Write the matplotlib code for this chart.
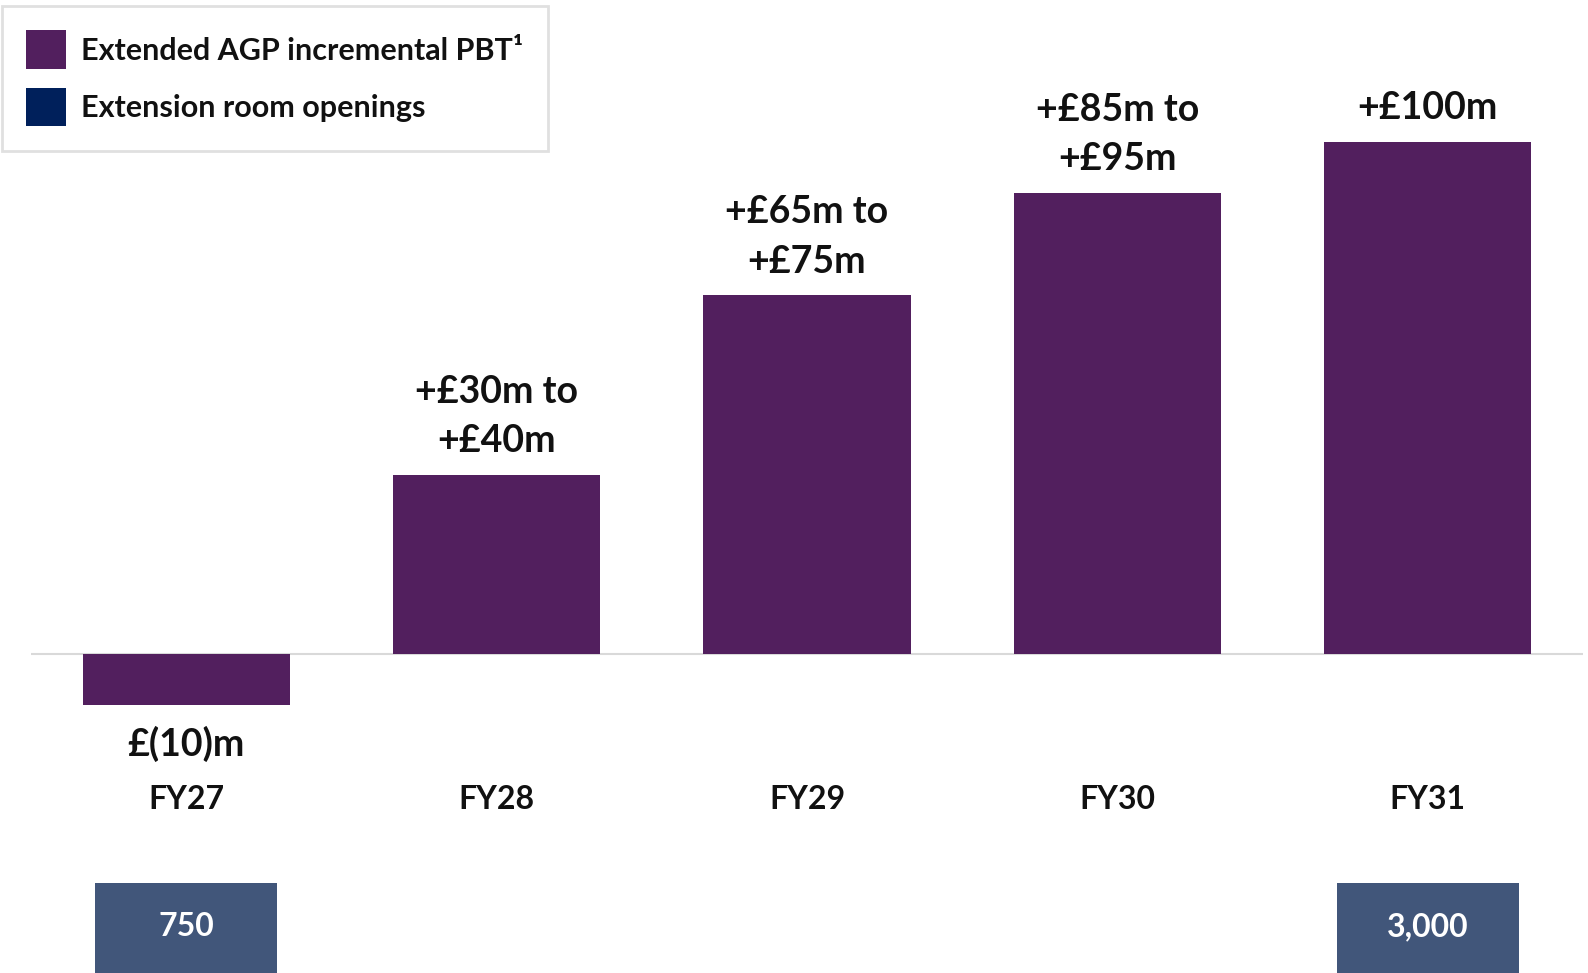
import matplotlib.pyplot as plt
from matplotlib.patches import Patch

# Chart data
years = ['FY27', 'FY28', 'FY29', 'FY30', 'FY31']
pbt_values = [-10, 35, 70, 90, 100]
pbt_labels = ['£(10)m', '+£30m to\n+£40m', '+£65m to\n+£75m', '+£85m to\n+£95m', '+£100m']
room_openings = [750, None, None, None, 3000]

purple = '#521F5E'
navy = '#00205B'
room_color = '#41567A'

plt.rcParams['font.family'] = ['Lato', 'DejaVu Sans']

fig = plt.figure(figsize=(15.88, 9.73), dpi=100)
ax = fig.add_axes([31 / 1588, 0, 1552 / 1588, 1])
ax.set_xlim(-0.5, 4.5)
ax.set_ylim(-62.3, 127.7)
ax.axis('off')

x = list(range(len(years)))

# Zero line
ax.axhline(0, color='#D9D9D9', lw=1.5, zorder=1)

# PBT bars
ax.bar(x, pbt_values, width=0.667, color=purple, zorder=2)

# Value labels
for xi, v, lab in zip(x, pbt_values, pbt_labels):
    if v >= 0:
        ax.annotate(lab, (xi, v), xytext=(0, 12), textcoords='offset points',
                    ha='center', va='bottom', fontsize=27, fontweight='bold',
                    linespacing=1.55, color='#111111')
    else:
        ax.annotate(lab, (xi, v), xytext=(0, -15), textcoords='offset points',
                    ha='center', va='top', fontsize=27, fontweight='bold',
                    color='#111111')

# Year labels
for xi, yr in zip(x, years):
    ax.text(xi, -28.5, yr, ha='center', va='center', fontsize=23,
            fontweight='bold', color='#111111')

# Extension room openings boxes
for xi, r in zip(x, room_openings):
    if r is None:
        continue
    ax.bar(xi, -30, bottom=-44.7, width=0.586, color=room_color, zorder=2)
    ax.text(xi, -53.3, f'{r:,}', ha='center', va='center', fontsize=23,
            fontweight='bold', color='white', zorder=3)

# Legend
handles = [Patch(facecolor=purple, edgecolor='none'),
           Patch(facecolor=navy, edgecolor='none')]
leg = fig.legend(handles, ['Extended AGP incremental PBT\u00b9', 'Extension room openings'],
                 loc='upper left', bbox_to_anchor=(2 / 1588, 1 - 6 / 973),
                 fontsize=22, frameon=True, fancybox=False, edgecolor='#D9D9D9',
                 handlelength=1.3, handleheight=1.55, handletextpad=0.5,
                 labelspacing=0.63, borderpad=0.8, borderaxespad=0)
leg.get_frame().set_linewidth(2)
for t in leg.get_texts():
    t.set_fontweight('bold')
    t.set_color('#111111')

fig.savefig('out.png', dpi=100)
